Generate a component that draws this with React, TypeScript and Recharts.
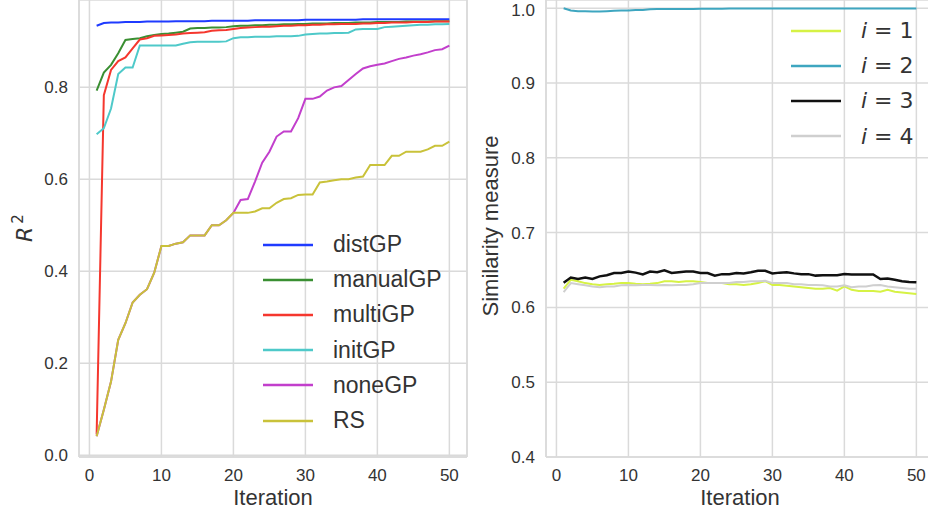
import { LineChart, Line, XAxis, YAxis, CartesianGrid, Legend, ReferenceLine } from "recharts";

const iterations = [
  1, 2, 3, 4, 5, 6, 7, 8, 9, 10, 11, 12, 13, 14, 15, 16, 17, 18, 19, 20, 21, 22, 23, 24, 25,
  26, 27, 28, 29, 30, 31, 32, 33, 34, 35, 36, 37, 38, 39, 40, 41, 42, 43, 44, 45, 46, 47, 48, 49, 50,
];

const distGP = [
  0.934, 0.94, 0.941, 0.941, 0.942, 0.942, 0.942, 0.943, 0.943, 0.943, 0.943, 0.944, 0.944, 0.944, 0.944,
  0.944, 0.945, 0.945, 0.945, 0.945, 0.945, 0.945, 0.946, 0.946, 0.946, 0.946, 0.946, 0.946, 0.946, 0.947,
  0.947, 0.947, 0.947, 0.947, 0.947, 0.947, 0.947, 0.948, 0.948, 0.948, 0.948, 0.948, 0.948, 0.948, 0.948,
  0.948, 0.948, 0.948, 0.948, 0.948,
];
const manualGP = [
  0.793, 0.832, 0.849, 0.874, 0.903, 0.905, 0.907, 0.911, 0.914, 0.916, 0.917, 0.919, 0.921, 0.928, 0.929,
  0.929, 0.93, 0.93, 0.931, 0.933, 0.934, 0.934, 0.935, 0.935, 0.936, 0.936, 0.937, 0.937, 0.938, 0.938,
  0.939, 0.939, 0.939, 0.94, 0.94, 0.94, 0.941, 0.941, 0.941, 0.942, 0.942, 0.942, 0.942, 0.943, 0.943,
  0.943, 0.943, 0.944, 0.944, 0.944,
];
const multiGP = [
  0.045, 0.783, 0.838, 0.857, 0.865, 0.885, 0.904, 0.907, 0.912, 0.913, 0.914, 0.915, 0.917, 0.918, 0.919,
  0.92, 0.923, 0.924, 0.925, 0.927, 0.929, 0.93, 0.931, 0.932, 0.932, 0.933, 0.934, 0.934, 0.935, 0.935,
  0.936, 0.936, 0.937, 0.937, 0.938, 0.938, 0.938, 0.939, 0.939, 0.94, 0.94, 0.941, 0.941, 0.941, 0.942,
  0.942, 0.942, 0.943, 0.943, 0.943,
];
const initGP = [
  0.698, 0.711, 0.754, 0.829, 0.843, 0.843, 0.891, 0.891, 0.891, 0.891, 0.891, 0.891, 0.895, 0.898, 0.899,
  0.899, 0.899, 0.899, 0.9, 0.907, 0.909, 0.909, 0.91, 0.91, 0.91, 0.911, 0.911, 0.911, 0.912, 0.915,
  0.916, 0.917, 0.917, 0.918, 0.918, 0.919, 0.926, 0.927, 0.927, 0.927, 0.931, 0.932, 0.933, 0.934, 0.935,
  0.936, 0.936, 0.937, 0.937, 0.938,
];
const noneGP = [
  0.041, 0.099, 0.16, 0.251, 0.287, 0.332, 0.349, 0.361, 0.397, 0.455, 0.455, 0.46, 0.463, 0.478, 0.478,
  0.478, 0.5, 0.5, 0.511, 0.527, 0.555, 0.557, 0.595, 0.636, 0.66, 0.693, 0.704, 0.704, 0.733, 0.775,
  0.775, 0.78, 0.793, 0.8, 0.803, 0.816, 0.829, 0.841, 0.846, 0.849, 0.852, 0.857, 0.862, 0.865, 0.869,
  0.872, 0.876, 0.881, 0.883, 0.891,
];
const RS = [
  0.041, 0.099, 0.16, 0.251, 0.287, 0.332, 0.349, 0.361, 0.397, 0.455, 0.455, 0.46, 0.463, 0.478, 0.478,
  0.478, 0.5, 0.5, 0.511, 0.527, 0.527, 0.527, 0.53, 0.537, 0.537, 0.549, 0.557, 0.559, 0.566, 0.567,
  0.567, 0.593, 0.595, 0.598, 0.6, 0.6, 0.604, 0.606, 0.631, 0.631, 0.631, 0.651, 0.651, 0.66, 0.66,
  0.66, 0.665, 0.673, 0.673, 0.682,
];

const sim1 = [
  0.625, 0.637, 0.635, 0.6325, 0.631, 0.63, 0.631, 0.6315, 0.6325, 0.6325, 0.6315, 0.631, 0.6315, 0.6325, 0.635,
  0.635, 0.634, 0.635, 0.635, 0.634, 0.6325, 0.6325, 0.6325, 0.631, 0.631, 0.63, 0.631, 0.6325, 0.635, 0.63,
  0.63, 0.629, 0.628, 0.627, 0.626, 0.625, 0.625, 0.626, 0.6225, 0.628, 0.6235, 0.622, 0.622, 0.622, 0.621,
  0.6235, 0.621, 0.62, 0.619, 0.618,
];
const sim2 = [
  1.0, 0.997, 0.996, 0.996, 0.9955, 0.9955, 0.996, 0.9965, 0.997, 0.997, 0.9975, 0.9975, 0.9985, 0.999, 0.999,
  0.999, 0.999, 0.999, 0.999, 0.9993, 0.9993, 0.9994, 0.9994, 0.9995, 0.9995, 0.9995, 0.9995, 0.9995, 0.9995, 0.9995,
  0.9995, 0.9995, 0.9995, 0.9995, 0.9995, 0.9995, 0.9995, 0.9995, 0.9995, 0.9995, 0.9995, 0.9995, 0.9995, 0.9995, 0.9995,
  0.9995, 0.9995, 0.9995, 0.9995, 0.9995,
];
const sim3 = [
  0.633, 0.64, 0.638, 0.64, 0.638, 0.6415, 0.643, 0.646, 0.646, 0.648, 0.6465, 0.644, 0.648, 0.647, 0.6495,
  0.646, 0.647, 0.648, 0.648, 0.646, 0.646, 0.6425, 0.6445, 0.6445, 0.646, 0.6455, 0.647, 0.649, 0.649, 0.6455,
  0.6465, 0.647, 0.6455, 0.6445, 0.6445, 0.6425, 0.643, 0.643, 0.643, 0.6445, 0.644, 0.644, 0.644, 0.644, 0.638,
  0.6385, 0.637, 0.635, 0.634, 0.6335,
];
const sim4 = [
  0.6205, 0.6325, 0.631, 0.6295, 0.628, 0.627, 0.628, 0.628, 0.6295, 0.63, 0.6295, 0.63, 0.63, 0.6295, 0.63,
  0.6295, 0.63, 0.63, 0.631, 0.6325, 0.6325, 0.6325, 0.6325, 0.6325, 0.634, 0.634, 0.635, 0.635, 0.6355, 0.6325,
  0.6325, 0.6325, 0.631, 0.631, 0.63, 0.63, 0.6295, 0.628, 0.628, 0.6295, 0.627, 0.628, 0.628, 0.6295, 0.63,
  0.628, 0.627, 0.626, 0.625, 0.625,
];

const r2Ticks = [0, 0.2, 0.4, 0.6, 0.8];
const simTicks = [0.4, 0.5, 0.6, 0.7, 0.8, 0.9, 1.0];
const iterTicks = [0, 10, 20, 30, 40, 50];

const r2Data = iterations.map((it, i) => ({
  iter: it,
  distGP: distGP[i],
  manualGP: manualGP[i],
  multiGP: multiGP[i],
  initGP: initGP[i],
  noneGP: noneGP[i],
  RS: RS[i],
}));

const simData = iterations.map((it, i) => ({
  iter: it,
  s1: sim1[i],
  s2: sim2[i],
  s3: sim3[i],
  s4: sim4[i],
}));

const LEFT_SERIES = [
  { key: "distGP", name: "distGP", color: "#1f3bff" },
  { key: "manualGP", name: "manualGP", color: "#3a8f32" },
  { key: "multiGP", name: "multiGP", color: "#f5372e" },
  { key: "initGP", name: "initGP", color: "#4ec9c9" },
  { key: "noneGP", name: "noneGP", color: "#c23fcc" },
  { key: "RS", name: "RS", color: "#c9c23a" },
];

const RIGHT_SERIES = [
  { key: "s1", name: "1", color: "#d6f245" },
  { key: "s2", name: "2", color: "#3ea6c0" },
  { key: "s3", name: "3", color: "#111111" },
  { key: "s4", name: "4", color: "#cfcfcf" },
];

const GRID = "#dadada";
const TEXT = "#333333";
const SANS = "'Liberation Sans', Arial, sans-serif";
const DEJAVU = "'DejaVu Sans', sans-serif";
const X_DOMAIN: [number, number] = [-1.45, 52.45];

function R2Label() {
  return (
    <text
      transform="translate(24,228) rotate(-90)"
      textAnchor="middle"
      fontFamily={DEJAVU}
      fontSize={22}
      fill={TEXT}
      dy={8}
    >
      <tspan fontStyle="italic">R</tspan>
      <tspan fontSize={15} dy={-9} dx={3}>2</tspan>
    </text>
  );
}

function SimLabel() {
  return (
    <text
      transform="translate(20,226) rotate(-90)"
      textAnchor="middle"
      fontFamily={SANS}
      fontSize={22}
      fill={TEXT}
      dy={8}
    >
      Similarity measure
    </text>
  );
}

// legend payload gets sorted by recharts, so put it back in series order
function LegendRows({ payload, order, math }: any) {
  const rows = order
    .map((s: any) => (payload || []).find((p: any) => p.value === s.name))
    .filter(Boolean);
  return (
    <div>
      {rows.map((entry: any) => (
        <div key={entry.value} style={{ display: "flex", alignItems: "center", height: 35.2 }}>
          <svg width={50} height={4} style={{ display: "block" }}>
            <line x1={0} y1={2} x2={50} y2={2} stroke={entry.color} strokeWidth={2.5} />
          </svg>
          {math ? (
            <span style={{ marginLeft: 20, fontFamily: DEJAVU, fontSize: 22, color: TEXT, whiteSpace: "pre" }}>
              <i>i</i> = {entry.value}
            </span>
          ) : (
            <span style={{ marginLeft: 20, fontFamily: SANS, fontSize: 23, color: TEXT }}>{entry.value}</span>
          )}
        </div>
      ))}
    </div>
  );
}

const tickStyle = { fill: TEXT, fontSize: 17, fontFamily: SANS };

export default function App() {
  return (
    <div
      style={{
        position: "fixed",
        left: 0,
        top: 0,
        width: 928,
        height: 516,
        overflow: "hidden",
        background: "#fff",
      }}
    >
      <div style={{ position: "absolute", left: 0, top: 0 }}>
        <LineChart width={470} height={516} data={r2Data} margin={{ top: 0, right: 3, left: 0, bottom: 0 }}>
          <CartesianGrid stroke={GRID} strokeWidth={1.5} />
          <XAxis
            dataKey="iter"
            type="number"
            domain={X_DOMAIN}
            ticks={iterTicks}
            allowDataOverflow
            height={59}
            tickLine={false}
            tickSize={0}
            tickMargin={12}
            axisLine={{ stroke: GRID, strokeWidth: 1.5 }}
            tick={tickStyle}
            label={{ value: "Iteration", position: "insideBottom", offset: 11, fill: TEXT, fontSize: 22, fontFamily: SANS }}
          />
          <YAxis
            type="number"
            domain={[-0.004, 0.99]}
            ticks={r2Ticks}
            allowDataOverflow
            width={79}
            tickLine={false}
            tickSize={0}
            tickMargin={11}
            axisLine={{ stroke: GRID, strokeWidth: 1.5 }}
            tick={tickStyle}
            tickFormatter={(v: number) => v.toFixed(1)}
            label={<R2Label />}
          />
          <ReferenceLine x={X_DOMAIN[1]} stroke={GRID} strokeWidth={1.5} />
          {LEFT_SERIES.map((s) => (
            <Line
              key={s.key}
              type="linear"
              dataKey={s.key}
              name={s.name}
              stroke={s.color}
              strokeWidth={2}
              dot={false}
              isAnimationActive={false}
            />
          ))}
          <Legend
            layout="vertical"
            align="center"
            verticalAlign="middle"
            wrapperStyle={{ left: 263, top: 227, width: 200, height: 215 }}
            content={(props: any) => <LegendRows payload={props.payload} order={LEFT_SERIES} />}
          />
        </LineChart>
      </div>

      <div style={{ position: "absolute", left: 470, top: 0 }}>
        <LineChart width={470} height={516} data={simData} margin={{ top: 0, right: 6, left: 0, bottom: 0 }}>
          <CartesianGrid stroke={GRID} strokeWidth={1.5} />
          <XAxis
            dataKey="iter"
            type="number"
            domain={X_DOMAIN}
            ticks={iterTicks}
            allowDataOverflow
            height={59}
            tickLine={false}
            tickSize={0}
            tickMargin={12}
            axisLine={{ stroke: GRID, strokeWidth: 1.5 }}
            tick={tickStyle}
            label={{ value: "Iteration", position: "insideBottom", offset: 11, fill: TEXT, fontSize: 22, fontFamily: SANS }}
          />
          <YAxis
            type="number"
            domain={[0.4, 1.011]}
            ticks={simTicks}
            allowDataOverflow
            width={76}
            tickLine={false}
            tickSize={0}
            tickMargin={11}
            axisLine={{ stroke: GRID, strokeWidth: 1.5 }}
            tick={tickStyle}
            tickFormatter={(v: number) => v.toFixed(1)}
            label={<SimLabel />}
          />
          {RIGHT_SERIES.map((s) => (
            <Line
              key={s.key}
              type="linear"
              dataKey={s.key}
              name={s.name}
              stroke={s.color}
              strokeWidth={s.key === "s3" ? 2.5 : 2}
              dot={false}
              isAnimationActive={false}
            />
          ))}
          <Legend
            layout="vertical"
            align="center"
            verticalAlign="middle"
            wrapperStyle={{ left: 321, top: 13, width: 150, height: 145 }}
            content={(props: any) => <LegendRows payload={props.payload} order={RIGHT_SERIES} math />}
          />
        </LineChart>
      </div>
    </div>
  );
}
